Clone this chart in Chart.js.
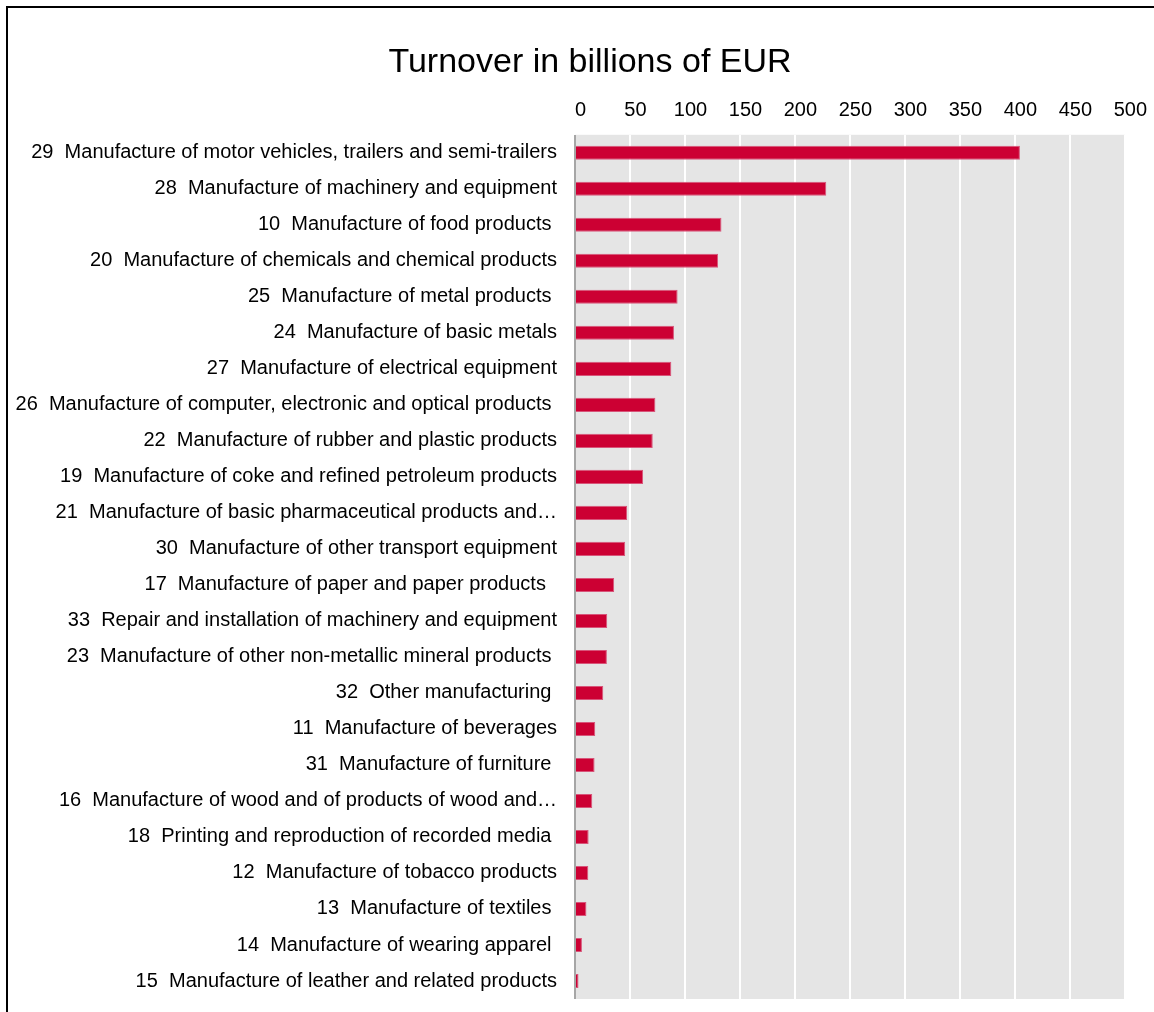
<!DOCTYPE html>
<html>
<head>
<meta charset="utf-8">
<script src="https://cdn.jsdelivr.net/npm/chart.js@4"></script>
<style>
    body { margin: 0; background: #fff; overflow: hidden; }
    #frame { position: absolute; left: 6px; top: 6px; width: 1300px; height: 1200px; border: 2px solid #000; pointer-events: none; }
    #chart { position: absolute; left: 0; top: 0; }
</style>
</head>
<body>
<canvas id="chart" width="1154" height="1012"></canvas>
<div id="frame"></div>
<script>
const sectorCodes = ["29", "28", "10", "20", "25", "24", "27", "26", "22", "19", "21", "30",
    "17", "33", "23", "32", "11", "31", "16", "18", "12", "13", "14", "15"];
const sectorNames = [
    "Manufacture of motor vehicles, trailers and semi-trailers",
    "Manufacture of machinery and equipment",
    "Manufacture of food products ",
    "Manufacture of chemicals and chemical products",
    "Manufacture of metal products ",
    "Manufacture of basic metals",
    "Manufacture of electrical equipment",
    "Manufacture of computer, electronic and optical products ",
    "Manufacture of rubber and plastic products",
    "Manufacture of coke and refined petroleum products",
    "Manufacture of basic pharmaceutical products and\u2026",
    "Manufacture of other transport equipment",
    "Manufacture of paper and paper products  ",
    "Repair and installation of machinery and equipment",
    "Manufacture of other non-metallic mineral products ",
    "Other manufacturing ",
    "Manufacture of beverages",
    "Manufacture of furniture ",
    "Manufacture of wood and of products of wood and\u2026",
    "Printing and reproduction of recorded media ",
    "Manufacture of tobacco products",
    "Manufacture of textiles ",
    "Manufacture of wearing apparel ",
    "Manufacture of leather and related products"
];
// billions of EUR
const turnover = [404.6, 228.5, 133.2, 130.1, 93.3, 90.0, 87.6, 73.1, 70.7, 61.9, 47.4, 45.6,
    35.6, 29.3, 29.0, 25.7, 18.4, 17.8, 15.7, 12.4, 12.1, 10.4, 6.3, 3.2];
const axisMax = 500;
const axisStep = 50;

const labels = sectorCodes.map((code, i) => `${code}  ${sectorNames[i]}`);

// grey plot background + shift title to where it sits in the original
const plotBackground = {
    id: 'plotBackground',
    afterLayout(chart) {
        if (chart.titleBlock) {
            chart.titleBlock.left += 27;
            chart.titleBlock.right += 27;
        }
    },
    beforeDraw(chart) {
        const { ctx, chartArea } = chart;
        ctx.save();
        ctx.fillStyle = '#e5e5e5';
        ctx.fillRect(chartArea.left, chartArea.top, chartArea.right - chartArea.left, chartArea.bottom - chartArea.top);
        ctx.restore();
    }
};

const font = { family: "'Liberation Sans', Arial, sans-serif", size: 20 };

new Chart(document.getElementById("chart").getContext('2d'), {
    type: 'bar',
    data: {
        labels: labels,
        datasets: [{
            data: turnover,
            backgroundColor: '#cc0033',
            borderColor: '#d8557a',
            borderWidth: 1,
            borderSkipped: 'start',
            barPercentage: 0.39,
            categoryPercentage: 1.0,
        }],
    },
    options: {
        indexAxis: 'y',
        responsive: false,
        animation: false,
        layout: { padding: { left: 0, right: 28, top: 0, bottom: 13 } },
        plugins: {
            legend: { display: false },
            tooltip: { enabled: false },
            title: {
                display: true,
                text: 'Turnover in billions of EUR',
                color: '#000',
                font: { family: font.family, size: 34, weight: 'normal' },
                padding: { top: 42, bottom: 3 },
            },
        },
        scales: {
            x: {
                position: 'top',
                min: 0,
                max: axisMax,
                ticks: { stepSize: axisStep, color: '#000', font: font, padding: 12.5, labelOffset: 5.5 },
                grid: {
                    drawTicks: false,
                    lineWidth: 2,
                    color: ctx => (ctx.tick && ctx.tick.value === 0 ? '#a6a6a6' : '#ffffff'),
                },
                border: { display: false },
            },
            y: {
                ticks: { color: '#000', font: font, padding: 18, autoSkip: false },
                grid: { display: false, drawTicks: false },
                border: { display: false },
                afterFit(scale) {
                    scale.width = 575;
                    scale.paddingTop = 0;
                    scale.paddingBottom = 0;
                },
            },
        },
    },
    plugins: [plotBackground],
});
</script>
</body>
</html>
